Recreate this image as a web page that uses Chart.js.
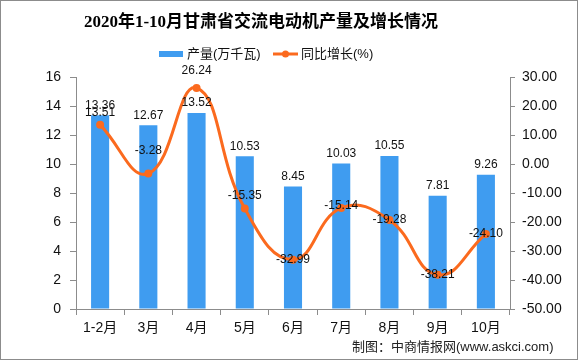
<!DOCTYPE html>
<html>
<head>
<meta charset="utf-8">
<script src="https://cdn.jsdelivr.net/npm/chart.js@4.4.0/dist/chart.umd.min.js"></script>
<style>
  html, body { margin: 0; padding: 0; background: #fff; }
</style>
</head>
<body>
<canvas id="grafico" width="578" height="360"></canvas>
<script>
// Dados do gráfico
const meses = ['1-2月', '3月', '4月', '5月', '6月', '7月', '8月', '9月', '10月'];
const producao = [13.36, 12.67, 13.52, 10.53, 8.45, 10.03, 10.55, 7.81, 9.26];
const crescimento = [13.51, -3.28, 26.24, -15.35, -32.99, -15.14, -19.28, -38.21, -24.10];

const titulo = '2020年1-10月甘肃省交流电动机产量及增长情况';
const legendaBarra = '产量(万千瓦)';
const legendaLinha = '同比增长(%)';
const rodape = '制图：中商情报网(www.askci.com)';

const corBarra = '#3f9cf0';
const corLinha = '#fb6a1e';
const fonteTxt = "'Liberation Sans', 'Noto Sans CJK SC', sans-serif";

// deslocamento vertical dos rótulos da linha (px)
const ajusteRotulo = [-12, -23, -17, -13, 0, -2, 0, 0, 0];

// Plugin para desenhar título, legenda, rótulos e rodapé
const extras = {
    id: 'extras',
    afterDatasetsDraw(chart) {
        const ctx = chart.ctx;
        ctx.save();
        ctx.fillStyle = '#111';
        ctx.font = '12px ' + fonteTxt;
        ctx.textAlign = 'center';
        ctx.textBaseline = 'middle';

        // rótulos das barras
        chart.getDatasetMeta(0).data.forEach((bar, i) => {
            ctx.fillText(producao[i].toFixed(2), bar.x, bar.y - 10);
        });
        // rótulos da linha
        chart.getDatasetMeta(1).data.forEach((pt, i) => {
            ctx.fillText(crescimento[i].toFixed(2), pt.x, pt.y + ajusteRotulo[i]);
        });
        ctx.restore();
    },
    afterDraw(chart) {
        const ctx = chart.ctx;
        ctx.save();
        // título
        ctx.fillStyle = '#000';
        ctx.font = "bold 17px 'Liberation Serif', 'Noto Sans CJK SC', serif";
        ctx.textAlign = 'center';
        ctx.textBaseline = 'middle';
        ctx.fillText(titulo, 261, 23);

        // legenda
        ctx.font = '13px ' + fonteTxt;
        ctx.textAlign = 'left';
        ctx.fillStyle = corBarra;
        ctx.fillRect(159, 51, 24, 6);
        ctx.fillStyle = '#111';
        ctx.fillText(legendaBarra, 187, 54);
        ctx.strokeStyle = corLinha;
        ctx.lineWidth = 3;
        ctx.beginPath();
        ctx.moveTo(273, 54);
        ctx.lineTo(298, 54);
        ctx.stroke();
        ctx.fillStyle = corLinha;
        ctx.beginPath();
        ctx.arc(285.5, 54, 3.5, 0, Math.PI * 2);
        ctx.fill();
        ctx.fillStyle = '#111';
        ctx.fillText(legendaLinha, 301, 54);

        // rodapé
        ctx.font = '13px ' + fonteTxt;
        ctx.fillStyle = '#222';
        ctx.fillText(rodape, 352, 347);

        // moldura
        ctx.strokeStyle = '#8c8c8c';
        ctx.lineWidth = 1;
        ctx.strokeRect(0.5, 0.5, 577, 359);
        ctx.restore();
    }
};

const ctx = document.getElementById('grafico').getContext('2d');
const grafico = new Chart(ctx, {
    data: {
        labels: meses,
        datasets: [{
            type: 'bar',
            label: legendaBarra,
            data: producao,
            yAxisID: 'y',
            backgroundColor: corBarra,
            barPercentage: 0.75,
            categoryPercentage: 0.5,
            order: 2
        }, {
            type: 'line',
            label: legendaLinha,
            data: crescimento,
            yAxisID: 'y1',
            borderColor: corLinha,
            backgroundColor: corLinha,
            borderWidth: 3,
            pointRadius: 4,
            pointBackgroundColor: corLinha,
            pointBorderWidth: 0,
            tension: 0.45,
            order: 1
        }]
    },
    options: {
        responsive: false,
        animation: false,
        devicePixelRatio: 1,
        layout: { padding: { top: 77, left: 0, right: 0, bottom: 0 } },
        plugins: {
            legend: { display: false },
            title: { display: false },
            tooltip: { enabled: false }
        },
        scales: {
            x: {
                offset: true,
                grid: { offset: true, drawOnChartArea: false, tickLength: 6, color: '#8c8c8c' },
                border: { color: '#8c8c8c' },
                ticks: { color: '#111', font: { size: 14, family: fonteTxt }, padding: 5, maxRotation: 0 },
                afterFit(s) { s.height = 51; }
            },
            y: {
                position: 'left',
                min: 0, max: 16,
                grid: { drawOnChartArea: false, tickLength: 6, color: '#8c8c8c' },
                border: { color: '#8c8c8c' },
                ticks: { stepSize: 2, color: '#111', font: { size: 14, family: fonteTxt }, padding: 9 },
                afterFit(s) { s.width = 76; }
            },
            y1: {
                position: 'right',
                min: -50, max: 30,
                grid: { drawOnChartArea: false, tickLength: 5, color: '#8c8c8c' },
                border: { color: '#8c8c8c' },
                ticks: {
                    stepSize: 10, color: '#111', font: { size: 14, family: fonteTxt }, padding: 7,
                    callback: v => v.toFixed(2)
                },
                afterFit(s) { s.width = 68; }
            }
        }
    },
    plugins: [extras]
});
</script>
</body>
</html>
